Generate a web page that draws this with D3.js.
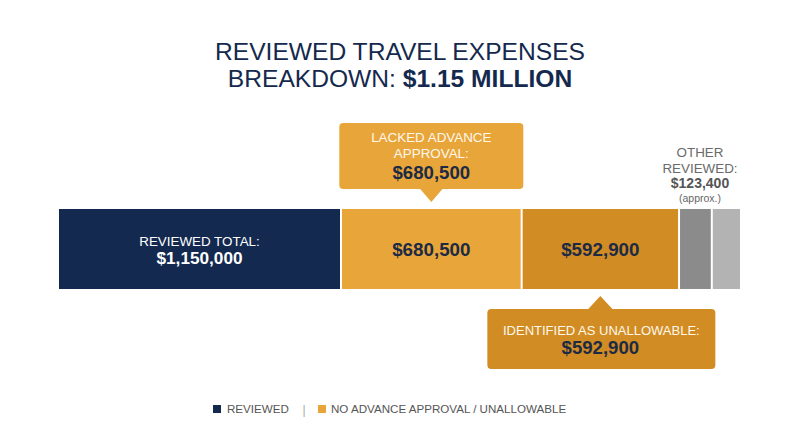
<!DOCTYPE html>
<html><head><meta charset="utf-8">
<script src="https://cdn.jsdelivr.net/npm/d3@7"></script>
<style>
html,body{margin:0;padding:0;background:#fff;}
svg{display:block;font-family:"Liberation Sans",Arial,Helvetica,sans-serif;}
</style></head>
<body><svg id="c" width="800" height="447"></svg>
<script>
// ---- data ----
const titleLine1 = "REVIEWED TRAVEL EXPENSES";
const titleLine2a = "BREAKDOWN: ";
const titleLine2b = "$1.15 MILLION";
const totalLabel = "REVIEWED TOTAL:";
const totalValue = 1150000;
const breakdownNames = ["LACKED ADVANCE APPROVAL", "IDENTIFIED AS UNALLOWABLE", "OTHER REVIEWED", "OTHER REVIEWED (remainder)"];
const breakdownValues = [680500, 592900, 123400, 110000];
const calloutLines = [["LACKED ADVANCE", "APPROVAL:"], ["IDENTIFIED AS UNALLOWABLE:"]];
const otherLines = ["OTHER", "REVIEWED:"];
const otherValue = 123400;
const otherNote = "(approx.)";
const legendItems = ["REVIEWED", "NO ADVANCE APPROVAL / UNALLOWABLE"];

// ---- styles ----
const navy = "#13294f", gold = "#e8a53a", dkGold = "#d18c24", gray = "#8b8b8b", ltGray = "#b3b3b3";
const segColors = [gold, dkGold, gray, ltGray];
const fmt = d3.format("$,");

const svg = d3.select("#c");
const barTop = 209, barH = 80, gap = 2;

// title
const t = svg.append("text").attr("text-anchor", "middle").attr("fill", "#14294d").attr("font-size", 24.6);
t.append("tspan").attr("x", 400).attr("y", 60).text(titleLine1);
const t2 = svg.append("text").attr("text-anchor", "middle").attr("fill", "#14294d").attr("font-size", 24.6)
  .attr("x", 400).attr("y", 87);
t2.append("tspan").text(titleLine2a);
t2.append("tspan").attr("font-weight", "bold").text(titleLine2b);

// scales
const xTotal = d3.scaleLinear().domain([0, totalValue]).range([59, 340]);
const xBreak = d3.scaleLinear().domain([0, d3.sum(breakdownValues)]).range([342, 742]);

// total segment
svg.append("rect").attr("x", xTotal(0)).attr("y", barTop)
  .attr("width", xTotal(totalValue) - xTotal(0)).attr("height", barH).attr("fill", navy);
const tcx = (xTotal(0) + xTotal(totalValue)) / 2;
svg.append("text").attr("x", tcx).attr("y", 246).attr("text-anchor", "middle")
  .attr("fill", "#fff").attr("font-size", 13.4).text(totalLabel);
svg.append("text").attr("x", tcx).attr("y", 264).attr("text-anchor", "middle")
  .attr("fill", "#fff").attr("font-size", 17.2).attr("font-weight", "bold").text(fmt(totalValue));

// breakdown segments
const cum = d3.cumsum(breakdownValues);
const segs = breakdownValues.map((v, i) => ({v, i, x0: xBreak(cum[i] - v), x1: xBreak(cum[i])}));
svg.selectAll("rect.seg").data(segs).join("rect").attr("class", "seg")
  .attr("x", d => d.x0).attr("y", barTop)
  .attr("width", d => d.x1 - d.x0 - gap).attr("height", barH)
  .attr("fill", d => segColors[d.i]);
svg.selectAll("text.segv").data(segs.slice(0, 2)).join("text").attr("class", "segv")
  .attr("x", d => (d.x0 + d.x1 - gap) / 2).attr("y", 256).attr("text-anchor", "middle")
  .attr("fill", "#1d2a44").attr("font-size", 18.8).attr("font-weight", "bold")
  .text(d => fmt(d.v));

// callout 1 (above)
{
  const d = segs[0], cx = (d.x0 + d.x1 - gap) / 2, w = 184, h = 66, y = 123;
  const g = svg.append("g");
  g.append("rect").attr("x", cx - w / 2).attr("y", y).attr("width", w).attr("height", h).attr("rx", 4).attr("fill", gold);
  g.append("path").attr("d", `M${cx - 12},${y + h - 1}L${cx + 12},${y + h - 1}L${cx},${y + h + 13}Z`).attr("fill", gold);
  calloutLines[0].forEach((s, k) => g.append("text").attr("x", cx).attr("y", 142 + k * 16)
    .attr("text-anchor", "middle").attr("fill", "#fff8ea").attr("font-size", 13.4).text(s));
  g.append("text").attr("x", cx).attr("y", 179).attr("text-anchor", "middle").attr("fill", "#1d2a44")
    .attr("font-size", 18.6).attr("font-weight", "bold").text(fmt(d.v));
}
// callout 2 (below)
{
  const d = segs[1], cx = (d.x0 + d.x1 - gap) / 2, w = 228, h = 60, y = 309;
  const g = svg.append("g");
  g.append("rect").attr("x", cx - w / 2 + 1).attr("y", y).attr("width", w).attr("height", h).attr("rx", 4).attr("fill", dkGold);
  g.append("path").attr("d", `M${cx - 13},${y + 1}L${cx + 13},${y + 1}L${cx},${y - 13}Z`).attr("fill", dkGold);
  calloutLines[1].forEach((s, k) => g.append("text").attr("x", cx + 1).attr("y", 335 + k * 16)
    .attr("text-anchor", "middle").attr("fill", "#fff8ea").attr("font-size", 13).text(s));
  g.append("text").attr("x", cx).attr("y", 354).attr("text-anchor", "middle").attr("fill", "#1d2a44")
    .attr("font-size", 18.6).attr("font-weight", "bold").text(fmt(d.v));
}

// other reviewed label
{
  const cx = 700;
  otherLines.forEach((s, k) => svg.append("text").attr("x", cx).attr("y", 157 + k * 15.5)
    .attr("text-anchor", "middle").attr("fill", "#6a6a6a").attr("font-size", 13.4).text(s));
  svg.append("text").attr("x", cx).attr("y", 188).attr("text-anchor", "middle").attr("fill", "#555")
    .attr("font-size", 14).attr("font-weight", "bold").text(fmt(otherValue));
  svg.append("text").attr("x", cx).attr("y", 202).attr("text-anchor", "middle").attr("fill", "#666")
    .attr("font-size", 10.5).text(otherNote);
}

// legend
{
  const ly = 413;
  svg.append("rect").attr("x", 213).attr("y", 405).attr("width", 8).attr("height", 8).attr("fill", navy);
  svg.append("text").attr("x", 227).attr("y", ly).attr("fill", "#555").attr("font-size", 11.6).text(legendItems[0]);
  svg.append("text").attr("x", 304).attr("y", ly + 1).attr("text-anchor", "middle").attr("fill", "#aaa").attr("font-size", 12).text("|");
  svg.append("rect").attr("x", 318).attr("y", 405).attr("width", 8).attr("height", 8).attr("fill", gold);
  svg.append("text").attr("x", 331).attr("y", ly).attr("fill", "#555").attr("font-size", 11.6).text(legendItems[1]);
}
</script></body></html>
